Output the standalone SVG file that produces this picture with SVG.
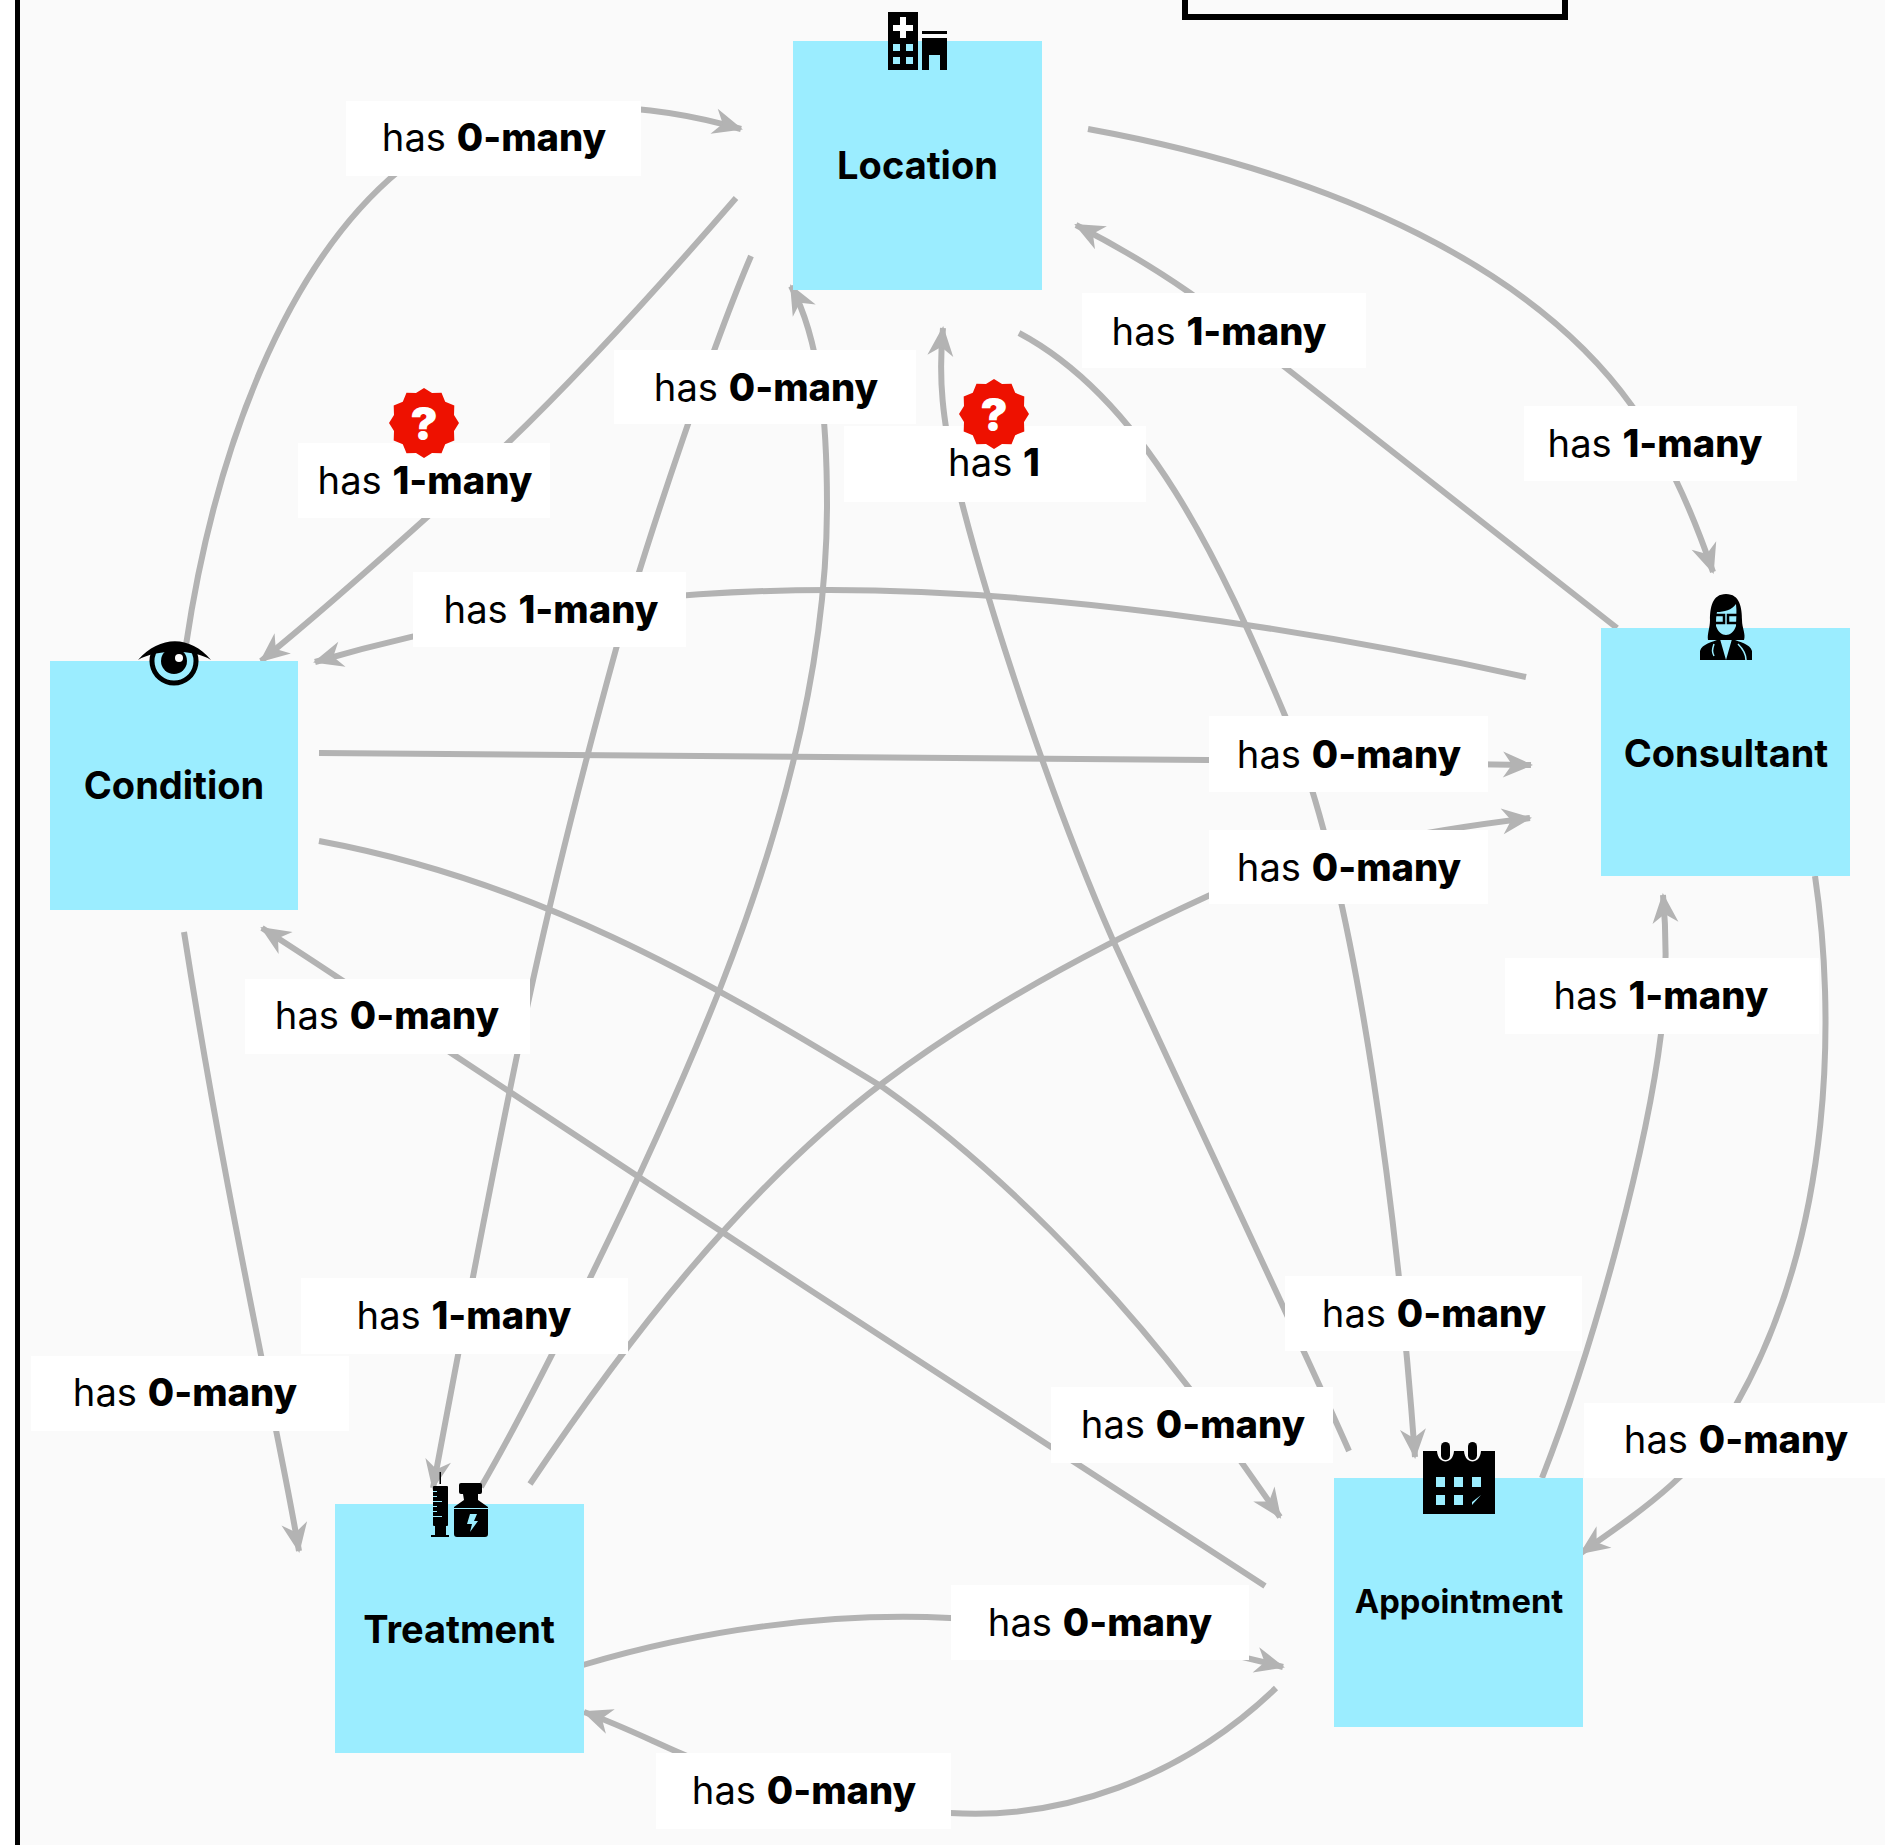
<svg xmlns="http://www.w3.org/2000/svg" width="1885" height="1845" viewBox="0 0 1885 1845">
<style>
text{font-family:"Inter","Liberation Sans",sans-serif;fill:#000}
.node{fill:#9bedff}
.name{font-size:38px;font-weight:700;text-anchor:middle}
.lb{fill:#fff}
.t{font-size:38.200px;text-anchor:middle;font-weight:400}
.t tspan{font-weight:800}
.c path{fill:none;stroke:#b3b3b3;stroke-width:6}
.a{marker-end:url(#arrow)}
.q{font-size:46px;font-weight:900;fill:#fff;text-anchor:middle}
.cy{fill:#9bedff}
</style>
<defs>
<marker id="arrow" markerUnits="userSpaceOnUse" markerWidth="36" markerHeight="32" viewBox="-32 -16 34 32" refX="-2" refY="0" orient="auto"><path d="M0 0L-30 -13L-21 0L-30 13Z" fill="#b3b3b3"/></marker>
<polygon id="badge" fill="#ee1100" points="0,-35 8,-30 17.500,-30.300 21.200,-21.200 30.300,-17.500 30,-8 35,0 30,8 30.300,17.500 21.200,21.200 17.500,30.300 8,30 0,35 -8,30 -17.500,30.300 -21.200,21.200 -30.300,17.500 -30,8 -35,0 -30,-8 -30.300,-17.500 -21.200,-21.200 -17.500,-30.300 -8,-30"/>
</defs>
<rect width="1885" height="1845" fill="#fafafa"/>
<rect x="0" y="0" width="15" height="1845" fill="#fff"/>
<rect x="15" y="0" width="5" height="1845" fill="#000"/>
<rect x="1185" y="-20" width="380" height="37" fill="#fafafa" stroke="#000" stroke-width="6"/>

<g id="connectors" class="c">
<path class="a" d="M186 645C215 450 285 265 400 170C470 108 600 88 741 129"/>
<path class="a" d="M736 198C665 280 570 385 488 462C408 535 330 605 261 661"/>
<path class="a" d="M1526 677C1290 625 1040 590 830 590C640 590 470 617 315 662"/>
<path class="a" d="M319 753L1208 760L1531 765"/>
<path class="a" d="M319 841C530 880 700 975 884 1088C1000 1170 1110 1285 1190 1389L1280 1517"/>
<path class="a" d="M1265 1586C1000 1415 720 1232 454 1055C390 1012 320 965 262 928"/>
<path class="a" d="M184 932C215 1130 250 1300 276 1430C284 1470 292 1510 299 1551"/>
<path class="a" d="M751 256C715 340 650 530 616 649C580 780 555 880 533 980C510 1085 470 1290 433 1488"/>
<path class="a" d="M481 1487C520 1420 640 1190 721 986C790 810 827 650 827 505C827 420 820 340 791 286"/>
<path class="a" d="M530 1484C620 1350 740 1190 884 1082C980 1010 1090 950 1208 896C1310 850 1430 830 1530 818"/>
<path class="a" d="M1349 1451C1300 1340 1200 1130 1112 938C1060 820 990 620 955 475C943 420 938 380 943 328"/>
<path class="a" d="M1019 333C1145 400 1220 560 1286 718C1360 890 1400 1250 1415 1457"/>
<path class="a" d="M1088 129C1340 175 1535 270 1632 406C1665 450 1690 505 1713 572"/>
<path class="a" d="M1617 628L1286 368C1250 340 1220 315 1190 293C1150 265 1115 245 1076 225"/>
<path class="a" d="M1542 1478C1600 1330 1648 1140 1661 1034C1666 990 1667 940 1663 895"/>
<path class="a" d="M1815 876C1835 1010 1835 1230 1737 1403C1700 1470 1650 1505 1581 1553"/>
<path class="a" d="M583 1665C700 1630 830 1612 950 1618C1080 1625 1180 1640 1283 1667"/>
<path class="a" d="M1276 1688C1180 1780 1060 1820 950 1813C850 1805 760 1790 680 1753C650 1740 620 1725 584 1712"/>
</g>

<g id="labels">
<rect class="lb" x="346" y="101" width="295" height="75"/><text class="t" x="494" y="151">has <tspan>0-many</tspan></text>
<rect class="lb" x="298" y="443" width="252" height="75"/><text class="t" x="425" y="494">has <tspan>1-many</tspan></text>
<rect class="lb" x="413" y="572" width="273" height="75"/><text class="t" x="551" y="623">has <tspan>1-many</tspan></text>
<rect class="lb" x="614" y="350" width="302" height="74"/><text class="t" x="766" y="401">has <tspan>0-many</tspan></text>
<rect class="lb" x="844" y="426" width="302" height="76"/><text class="t" x="994" y="476">has <tspan>1</tspan></text>
<rect class="lb" x="1082" y="293" width="284" height="75"/><text class="t" x="1219" y="345">has <tspan>1-many</tspan></text>
<rect class="lb" x="1524" y="406" width="273" height="75"/><text class="t" x="1655" y="457">has <tspan>1-many</tspan></text>
<rect class="lb" x="1209" y="716" width="279" height="76"/><text class="t" x="1349" y="768">has <tspan>0-many</tspan></text>
<rect class="lb" x="1209" y="830" width="279" height="74"/><text class="t" x="1349" y="881">has <tspan>0-many</tspan></text>
<rect class="lb" x="1505" y="958" width="314" height="76"/><text class="t" x="1661" y="1009">has <tspan>1-many</tspan></text>
<rect class="lb" x="245" y="979" width="285" height="75"/><text class="t" x="387" y="1029">has <tspan>0-many</tspan></text>
<rect class="lb" x="301" y="1278" width="327" height="76"/><text class="t" x="464" y="1329">has <tspan>1-many</tspan></text>
<rect class="lb" x="31" y="1356" width="318" height="75"/><text class="t" x="185" y="1406">has <tspan>0-many</tspan></text>
<rect class="lb" x="1285" y="1276" width="297" height="75"/><text class="t" x="1434" y="1327">has <tspan>0-many</tspan></text>
<rect class="lb" x="1051" y="1387" width="282" height="76"/><text class="t" x="1193" y="1438">has <tspan>0-many</tspan></text>
<rect class="lb" x="1584" y="1403" width="301" height="75"/><text class="t" x="1736" y="1453">has <tspan>0-many</tspan></text>
<rect class="lb" x="951" y="1585" width="298" height="75"/><text class="t" x="1100" y="1636">has <tspan>0-many</tspan></text>
<rect class="lb" x="656" y="1753" width="295" height="76"/><text class="t" x="804" y="1804">has <tspan>0-many</tspan></text>
<g id="badge-a"><use href="#badge" x="424" y="423"/><text class="q" x="424" y="440">?</text></g>
<g id="badge-b"><use href="#badge" x="994" y="414"/><text class="q" x="994" y="431">?</text></g>
</g>

<g id="node-location">
<rect class="node" x="793" y="41" width="249" height="249"/>
<text class="name" x="917.500" y="179">Location</text>
<rect x="888" y="12" width="30" height="58" fill="#000"/>
<path d="M900 17h6v8h7v6h-7v7h-6v-7h-7v-6h7z" fill="#fff"/>
<path class="cy" d="M893 44h7v7h-7zM906 44h7v7h-7zM893 57h7v7h-7zM906 57h7v7h-7z"/>
<rect x="922" y="31" width="25" height="3" fill="#000"/>
<path d="M922 38h25v32h-7v-15h-11v15h-7z" fill="#000"/>
</g>

<g id="node-condition">
<rect class="node" x="50" y="661" width="248" height="249"/>
<text class="name" x="174" y="799">Condition</text>
<path d="M155 650A22 22 0 1 0 193 650Z" fill="#9bedff"/>
<path d="M155 650A22 22 0 1 0 193 650" fill="none" stroke="#000" stroke-width="5"/>
<path d="M138 660C160 635 190 635 211 660C195 649 155 649 138 660Z" fill="#000"/>
<circle cx="174" cy="661" r="13" fill="#000"/>
<circle cx="179" cy="658" r="4" fill="#fff"/>
</g>

<g id="node-consultant">
<rect class="node" x="1601" y="628" width="249" height="248"/>
<text class="name" x="1726" y="767">Consultant</text>
<path d="M1726 594C1712 594 1710 608 1710 620C1710 628 1707 634 1708 640L1744 640C1746 634 1742 628 1742 620C1742 608 1740 594 1726 594Z" fill="#000"/>
<path d="M1717 612C1724 612 1732 610 1736 604C1737 612 1736 620 1736 626C1732 638 1720 638 1716 626C1716 620 1716 616 1717 612Z" class="cy"/>
<rect x="1713" y="615" width="11" height="8" fill="none" stroke="#000" stroke-width="2.500"/>
<rect x="1728" y="615" width="11" height="8" fill="none" stroke="#000" stroke-width="2.500"/>
<path d="M1700 660V651C1702 644 1712 642 1720 639L1726 660ZM1752 660V651C1750 644 1740 642 1732 639L1726 660Z" fill="#000"/>
<path d="M1714 644C1712 650 1712 652 1714 656M1738 644C1744 650 1746 654 1746 660" fill="none" stroke="#9bedff" stroke-width="1.500"/>
</g>

<g id="node-treatment">
<rect class="node" x="335" y="1504" width="249" height="249"/>
<text class="name" x="459" y="1643">Treatment</text>
<rect x="439.500" y="1472" width="1.500" height="12" fill="#000"/>
<rect x="433" y="1486" width="15" height="40" rx="1" fill="#000"/>
<path class="cy" d="M433 1491h4v1h-4zM433 1496h4v1h-4zM433 1501h9v1h-9zM433 1506h4v1h-4zM433 1511h4v1h-4zM433 1516h9v1h-9z"/>
<rect x="435" y="1526" width="11" height="9" fill="#000"/>
<rect x="431" y="1535" width="18" height="2" fill="#000"/>
<rect x="459" y="1483" width="23" height="11" rx="2" fill="#000"/>
<path d="M463 1494h15v6l10 7v27a3 3 0 0 1-3 3h-28a3 3 0 0 1-3-3v-27l10-7z" fill="#000"/>
<path class="cy" d="M454 1508h34v1h-34zM470 1514h7l-3 7h4l-8 11 2-8h-5z"/>
</g>

<g id="node-appointment">
<rect class="node" x="1334" y="1478" width="249" height="249"/>
<text class="name" x="1459" y="1613" style="font-size:32.700px">Appointment</text>
<path d="M1423 1451H1437C1438 1465 1453 1465 1454 1451H1464C1465 1465 1480 1465 1481 1451H1495V1514H1423Z" fill="#000"/>
<rect x="1441" y="1442" width="9" height="18" rx="4.500" fill="#000"/>
<rect x="1468" y="1442" width="9" height="18" rx="4.500" fill="#000"/>
<path class="cy" d="M1436 1477h9v10h-9zM1454 1477h9v10h-9zM1472 1477h9v10h-9zM1436 1495h9v10h-9zM1454 1495h9v10h-9zM1472 1505v-3l9-7v0z"/>
</g>
</svg>
